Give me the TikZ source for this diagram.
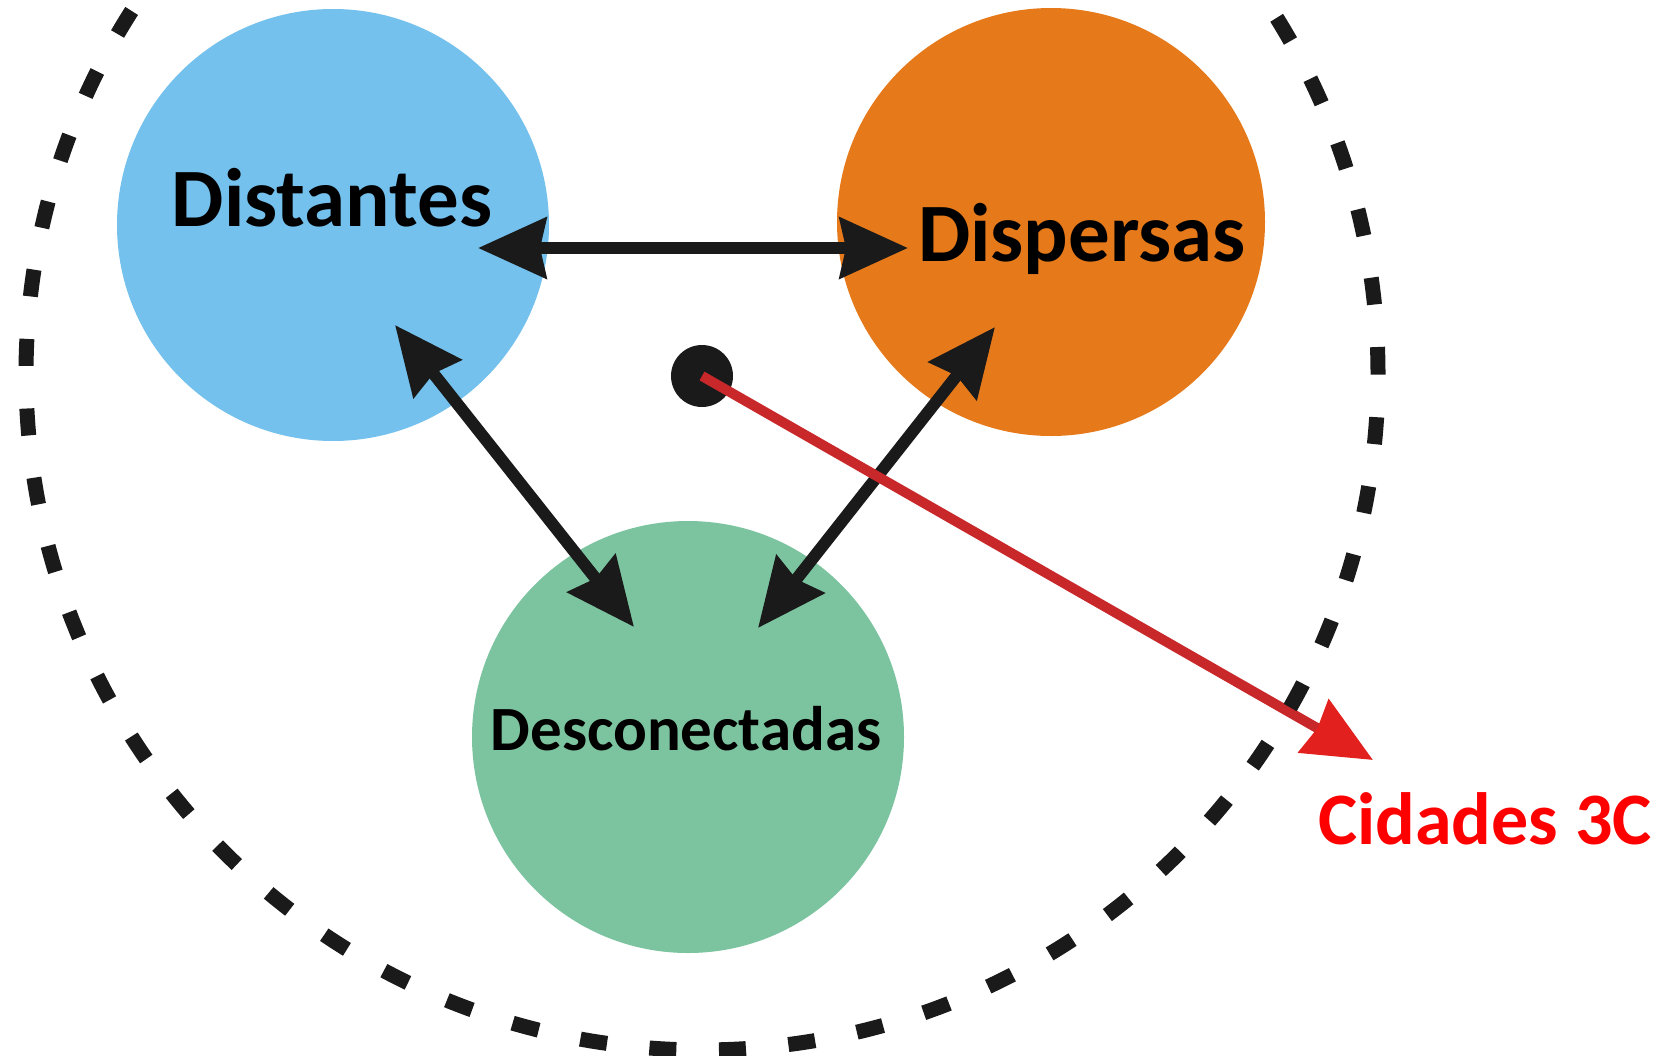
\documentclass[tikz,border=0pt]{standalone}
\usepackage{fontspec}
\setmainfont{Carlito}
\usetikzlibrary{arrows.meta}
\definecolor{cblue}{HTML}{74C1ED}
\definecolor{corange}{HTML}{E67A1A}
\definecolor{cgreen}{HTML}{7CC4A0}
\definecolor{cblack}{HTML}{1A1A1A}
\definecolor{credline}{HTML}{C9282B}
\definecolor{credhead}{HTML}{E2201E}
\definecolor{ctext}{HTML}{FF0000}
\begin{document}
\begin{tikzpicture}[x=1pt,y=-1pt,
  bubble/.style={circle,draw=none,inner sep=0pt},
  biglabel/.style={anchor=base,inner sep=0pt,font=\bfseries\fontsize{83}{90}\selectfont},
  dbl/.style={line width=12pt,draw=cblack,
    {Stealth[length=68pt,width=60pt,inset=6pt,fill=cblack]}-{Stealth[length=68pt,width=60pt,inset=6pt,fill=cblack]}},
  redarrow/.style={line width=10pt,draw=credline,
    -{Stealth[length=68pt,width=60pt,inset=4pt,color=credhead,fill=credhead]}},
  ring/.style={line width=15pt,draw=cblack,dash pattern=on 27pt off 42.63pt}
]
\useasboundingbox (0,0) rectangle (1668,1055);
\fill[white] (0,0) rectangle (1668,1055);

% bubbles
\node[bubble,fill=cblue,minimum size=432pt] (dist) at (333,225) {};
\node[bubble,fill=corange,minimum size=428pt] (disp) at (1051,222) {};
\node[bubble,fill=cgreen,minimum size=432pt] (desc) at (688,737) {};

% labels
\node[biglabel] (tdist) at (332,226) {Distantes};
\node[biglabel] (tdisp) at (1082,261) {Dispersas};
\node[anchor=base,inner sep=0pt,font=\bfseries\fontsize{63}{70}\selectfont] (tdesc) at (686,750) {Desconectadas};
\node[anchor=base,inner sep=0pt,text=ctext,font=\bfseries\fontsize{74}{80}\selectfont] (tcid) at (1485,844) {Cidades 3C};

% arrow end points
\coordinate (hL) at (478,248);
\coordinate (hR) at (908,248);
\coordinate (lU) at (395,325);
\coordinate (lD) at (634,627);
\coordinate (rU) at (995,327);
\coordinate (rD) at (758,628);
\coordinate (redtip) at (1373,760);

\draw[dbl] (hL) -- (hR);
\draw[dbl] (lU) -- (lD);
\draw[dbl] (rU) -- (rD);

% centre dot
\node[circle,fill=cblack,inner sep=0pt,minimum size=62pt] (dot) at (702,376) {};
\draw[redarrow] (dot.center) -- (redtip);

% dashed ring
\draw[ring] (702,374) circle[radius=676pt];
\end{tikzpicture}
\end{document}
